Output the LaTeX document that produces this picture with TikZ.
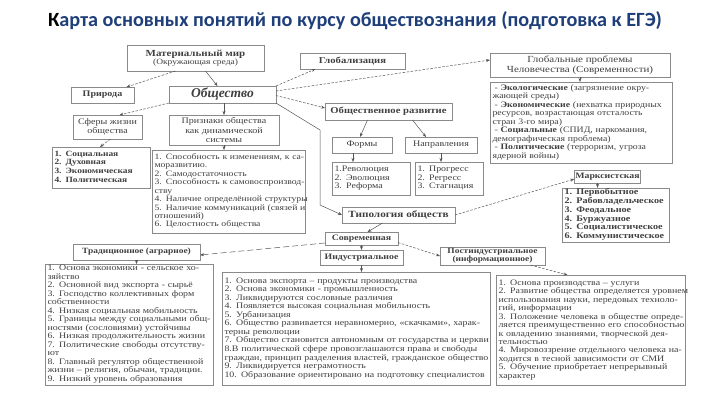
\documentclass[tikz,border=0pt]{standalone}
\usepackage{fontspec}
\setmainfont{Liberation Serif}
\newfontfamily\titlefont{Carlito}
\newfontfamily\dgfont[FakeStretch=1.18]{Liberation Serif}
\newcommand\mylines[1]{\begin{tabular}{@{}l@{}}#1\end{tabular}}
\usetikzlibrary{arrows.meta,calc}
\definecolor{titleblue}{HTML}{1F3F7A}
\definecolor{ink}{HTML}{404040}
\definecolor{frame}{HTML}{8A8A8A}
\definecolor{wire}{HTML}{555555}
\tikzset{
  box/.style={draw=frame, line width=0.6pt, inner sep=1pt, outer sep=0pt, text=ink, align=center, font=\dgfont\fontsize{8.5}{9.5}\selectfont},
  lst/.style={box, align=left, inner xsep=2.5pt, font=\dgfont\fontsize{8.4}{8.45}\selectfont},
  arr/.style={draw=wire, line width=0.5pt, -{Stealth[length=4pt,width=3pt]}},
  darr/.style={arr, dash pattern=on 2.5pt off 1.5pt},
  ldarr/.style={arr, dash pattern=on 6pt off 3pt},
}
\begin{document}
\begin{tikzpicture}[x=1pt,y=-1pt]
\fill[white] (0,0) rectangle (720,405);
\useasboundingbox (0,0) rectangle (720,405);
\node[text=titleblue, font=\titlefont\bfseries\fontsize{20.2}{22}\selectfont] (title) at (355,21) {\textcolor{black}{К}арта основных понятий по курсу обществознания (подготовка к ЕГЭ)};

% top row
\node[box, minimum width=137pt, minimum height=26pt] (mat) at (195.5,58) {{\fontsize{9.3}{10}\selectfont\textbf{Материальный мир}}\\[-1pt]{\fontsize{8}{9}\selectfont (Окружающая среда)}};
\node[box, minimum width=105pt, minimum height=16pt, font=\dgfont\fontsize{9}{10}\selectfont] (glob) at (352.5,61) {\textbf{Глобализация}};
\node[box, minimum width=180pt, minimum height=24pt, font=\dgfont\fontsize{9.3}{10}\selectfont] (gprob) at (580,65) {Глобальные проблемы\\Человечества (Современности)};
\node[lst, text width=177pt, minimum height=81pt, font=\dgfont\fontsize{8.3}{8.5}\selectfont] (gplist) at (581,122.5) {\mylines{\hspace{2pt}- \textbf{Экологические} (загрязнение окру-\\жающей среды)\\\hspace{2pt}- \textbf{Экономические} (нехватка природных\\ресурсов, возрастающая отсталость\\стран 3-го мира)\\\hspace{2pt}- \textbf{Социальные} (СПИД, наркомания,\\демографическая проблема)\\\hspace{2pt}- \textbf{Политические} (терроризм, угроза\\ядерной войны)}};

\node[box, minimum width=63pt, minimum height=16pt] (priroda) at (102.5,95) {\textbf{Природа}};
\node[box, minimum width=107pt, minimum height=17pt, font=\rmfamily\fontsize{13.5}{14}\selectfont] (obsh) at (222.5,94.5) {\textbf{\textit{Общество}}};
\node[box, minimum width=127pt, minimum height=17pt, font=\dgfont\fontsize{9}{10}\selectfont] (obrazv) at (388.5,111.5) {\textbf{Общественное развитие}};

\node[box, minimum width=69pt, minimum height=24pt] (sfery) at (107.5,127) {Сферы жизни\\общества};
\node[lst, text width=93pt, minimum height=41pt, font=\dgfont\fontsize{8}{8.6}\selectfont\bfseries] (sflist) at (101,167.5) {\mylines{1. Социальная\\2. Духовная\\3. Экономическая\\4. Политическая}};

\node[box, minimum width=110pt, minimum height=30pt] (priz) at (224,130) {Признаки общества\\как динамической\\системы};
\node[lst, text width=148pt, minimum height=83pt, font=\dgfont\fontsize{8.2}{8.45}\selectfont] (prlist) at (228.5,191.5) {\mylines{1. Способность к изменениям, к са-\\моразвитию.\\2. Самодостаточность\\3. Способность к самовоспроизвод-\\ству\\4. Наличие определённой структуры\\5. Наличие коммуникаций (связей и\\отношений)\\6. Целостность общества}};

\node[box, minimum width=60pt, minimum height=16pt] (formy) at (362,145) {Формы};
\node[box, minimum width=72pt, minimum height=16pt] (napr) at (441,145) {Направления};
\node[lst, text width=73pt, minimum height=33pt] (fmlist) at (371,178.5) {\mylines{1.Революция\\2. Эволюция\\3. Реформа}};
\node[lst, text width=63pt, minimum height=33pt] (nplist) at (449,178.5) {\mylines{1. Прогресс\\2. Регресс\\3. Стагнация}};

\node[box, minimum width=65pt, minimum height=13pt, font=\dgfont\fontsize{8.3}{9}\selectfont] (marx) at (607.5,176.5) {\textbf{Марксистская}};
\node[lst, text width=102pt, minimum height=54pt, font=\dgfont\fontsize{8.6}{8.7}\selectfont\bfseries] (mxlist) at (615.5,215) {\mylines{1. Первобытное\\2. Рабовладельческое\\3. Феодальное\\4. Буржуазное\\5. Социалистическое\\6. Коммунистическое}};

\node[box, minimum width=113pt, minimum height=16pt, font=\dgfont\fontsize{9.5}{10}\selectfont] (tipol) at (398.5,215) {\textbf{Типология обществ}};
\node[box, minimum width=73pt, minimum height=13pt, font=\dgfont\fontsize{8.3}{9}\selectfont] (sovr) at (361.5,238.5) {\textbf{Современная}};
\node[box, minimum width=127pt, minimum height=16pt, font=\dgfont\fontsize{8}{9}\selectfont] (trad) at (136.5,252) {\textbf{Традиционное (аграрное)}};
\node[box, minimum width=83pt, minimum height=15pt, font=\dgfont\fontsize{8.3}{9}\selectfont] (indus) at (361.5,257.5) {\textbf{Индустриальное}};
\node[box, minimum width=105pt, minimum height=18pt, font=\dgfont\fontsize{8}{8.3}\selectfont] (postind) at (492.5,256) {\textbf{Постиндустриальное}\\\textbf{(информационное)}};

\node[lst, text width=163pt, minimum height=121pt] (trlist) at (129,324.5) {\mylines{1. Основа экономики - сельское хо-\\зяйство\\2. Основной вид экспорта - сырьё\\3. Господство коллективных форм\\собственности\\4. Низкая социальная мобильность\\5. Границы между социальными общ-\\ностями (сословиями) устойчивы\\6. Низкая продолжительность жизни\\7. Политические свободы отсутству-\\ют\\8. Главный регулятор общественной\\жизни – религия, обычаи, традиции.\\9. Низкий уровень образования}};
\node[lst, text width=263pt, minimum height=113pt] (inlist) at (356,328.5) {\mylines{1. Основа экспорта – продукты производства\\2. Основа экономики - промышленность\\3. Ликвидируются сословные различия\\4. Появляется высокая социальная мобильность\\5. Урбанизация\\6. Общество развивается неравномерно, «скачками», харак-\\терны революции\\7. Общество становится автономным от государства и церкви\\8.В политической сфере провозглашаются права и свободы\\граждан, принцип разделения властей, гражданское общество\\9. Ликвидируется неграмотность\\10. Образование ориентировано на подготовку специалистов}};
\node[lst, text width=184pt, minimum height=110pt] (pslist) at (590.5,330) {\mylines{1. Основа производства – услуги\\2. Развитие общества определяется уровнем\\использования науки, передовых техноло-\\гий, информации\\3. Положение человека в обществе опреде-\\ляется преимущественно его способностью\\к овладению знаниями, творческой дея-\\тельностью\\4. Мировоззрение отдельного человека на-\\ходится в тесной зависимости от СМИ\\5. Обучение приобретает непрерывный\\характер}};

% connectors
\draw[darr] ([xshift=-20pt]mat.south) -- ([xshift=24pt]priroda.north);
\draw[arr] ([xshift=10pt]mat.south) -- ([xshift=-5pt]obsh.north);
\draw[darr] (obsh.south west) -- ([xshift=12pt]sfery.north);
\draw[arr] (obsh.south -| priz.north) -- (priz.north);
\draw[darr] (obsh.north east) -- ([xshift=-37pt]glob.south);
\draw[darr] ([yshift=3.5pt]obsh.east) -- ([yshift=5pt]gprob.west);
\draw[darr] ([yshift=-1pt]obsh.east) -- ([yshift=3.5pt]obrazv.west);
\draw[arr] (obsh.south east) -- (320,130) -- (320,205) -- (tipol.west);
\draw[arr] ([xshift=-21pt]obrazv.south) -- ([xshift=-2pt]formy.north);
\draw[arr] ([xshift=24pt]obrazv.south) -- ([xshift=-15pt]napr.north);
\draw[arr] ([xshift=-9pt]formy.south) -- ([xshift=-9pt]formy.south |- fmlist.north);
\draw[arr] (napr.south) -- (napr.south |- nplist.north);
\draw[arr] (gprob.south) -- (gprob.south |- gplist.north);
\draw[arr] (priz.south) -- (priz.south |- prlist.north);
\draw[darr] ([xshift=3pt]sfery.south) -- ([xshift=-1pt]sflist.north);
\draw[darr] (tipol.east) -- ([yshift=-2.5pt]marx.west);
\draw[arr] ([xshift=-10pt]marx.south) -- ([xshift=-10pt]marx.south |- mxlist.north);
\draw[arr] ([xshift=-16pt]tipol.south) -- ([xshift=6pt]sovr.north);
\draw[arr] (sovr.south) -- (sovr.south |- indus.north);
\draw[ldarr] ([yshift=-4.5pt]sovr.west) -- ([yshift=-3pt]trad.east);
\draw[darr] ([yshift=-4pt]sovr.east) -- (postind.west);
\draw[darr] ([xshift=38pt]postind.south) -- ([xshift=-23pt]pslist.north);
\draw[arr] (trad.south) -- (trad.south |- trlist.north);
\draw[arr] (indus.south) -- (indus.south |- inlist.north);
\end{tikzpicture}
\end{document}
